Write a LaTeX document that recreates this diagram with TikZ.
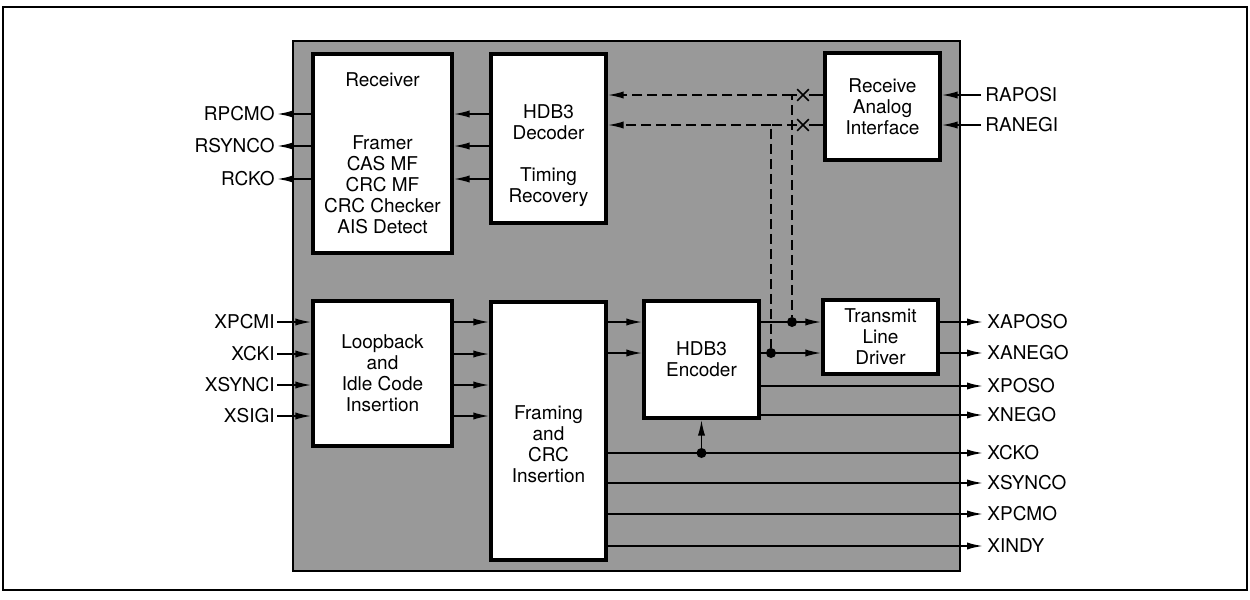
\documentclass[tikz,border=0pt]{standalone}
\usepackage{fontspec}
\setmainfont{TeX Gyre Heros}
\usetikzlibrary{arrows.meta,shapes.misc,calc}

\begin{document}
\begin{tikzpicture}[x=0.5pt,y=-0.5pt,>={Latex[length=8pt,width=3.6pt]},
		font=\fontsize{9.5}{10.5}\selectfont,
		blk/.style={draw,line width=1.6pt,fill=white,align=center,inner sep=0pt},
		sig/.style={line width=0.9pt},
		dashline/.style={sig,dash pattern=on 5pt off 2.5pt},
		pinl/.style={anchor=east,inner sep=1pt},
		pinr/.style={anchor=west,inner sep=2pt},
		jdot/.style={circle,fill,inner sep=0pt,minimum size=5pt},
		xmark/.style={cross out,draw,line width=0.8pt,inner sep=0pt,minimum size=5pt}]
		\useasboundingbox (0,0) rectangle (1250,600);
		\draw[line width=1pt] (3,7) rectangle (1247,590);
		\draw[line width=0.9pt,fill=black!40] (293,41) rectangle (960,571);
		% blocks
		\node[blk,minimum width=69.5pt,minimum height=99.5pt] (rx) at (382.5,153.5) {Receiver\\[21pt]Framer\\CAS MF\\CRC MF\\CRC Checker\\AIS Detect};
		\node[blk,minimum width=57.5pt,minimum height=84.5pt,
			label={[align=center,yshift=-8.75pt]center:{HDB3\\Decoder\\[10.5pt]Timing\\Recovery}}] (dec) at (548.5,138.5) {};
		\node[blk,minimum width=57.5pt,minimum height=53.5pt] (rai) at (882.5,106.5) {Receive\\Analog\\Interface};
		\node[blk,minimum width=69.5pt,minimum height=72.5pt] (lb) at (382.5,373.5) {Loopback\\and\\Idle Code\\Insertion};
		\node[blk,minimum width=57.5pt,minimum height=129pt,
			label={[align=center,yshift=-6.5pt]center:{Framing\\and\\CRC\\Insertion}}] (fr) at (548.5,431) {};
		\node[blk,minimum width=57.5pt,minimum height=58.5pt] (enc) at (701.5,359.5) {HDB3\\Encoder};
		\node[blk,minimum width=57.5pt,minimum height=37pt] (tld) at (880.5,337) {Transmit\\Line\\Driver};
		% pins
		\node[pinl] (rpcmo) at (277,114) {RPCMO};
		\node[pinl] (rsynco) at (277,146) {RSYNCO};
		\node[pinl] (rcko) at (277,179) {RCKO};
		\node[pinl] (xpcmi) at (277,322) {XPCMI};
		\node[pinl] (xcki) at (277,354) {XCKI};
		\node[pinl] (xsynci) at (277,385) {XSYNCI};
		\node[pinl] (xsigi) at (277,416) {XSIGI};
		\node[pinr] (raposi) at (981,95) {RAPOSI};
		\node[pinr] (ranegi) at (981,125) {RANEGI};
		\node[pinr] (xaposo) at (983,322) {XAPOSO};
		\node[pinr] (xanego) at (983,353) {XANEGO};
		\node[pinr] (xposo) at (983,386) {XPOSO};
		\node[pinr] (xnego) at (983,415) {XNEGO};
		\node[pinr] (xcko) at (983,453) {XCKO};
		\node[pinr] (xsynco) at (983,483) {XSYNCO};
		\node[pinr] (xpcmo) at (983,514) {XPCMO};
		\node[pinr] (xindy) at (983,546) {XINDY};
		% loop taps
		\node[xmark] (xa) at (803,95) {};
		\node[xmark] (xb) at (803,125) {};
		\node[jdot] (da) at (792,322) {};
		\node[jdot] (db) at (771,353) {};
		\node[jdot] (dck) at (enc.south |- xcko) {};
		% receive path
		\path[sig,->]
			(raposi.west) edge (raposi -| rai.east)
			(ranegi.west) edge (ranegi -| rai.east)
			(rpcmo -| dec.west) edge (rpcmo -| rx.east)
			(rsynco -| dec.west) edge (rsynco -| rx.east)
			(rcko -| dec.west) edge (rcko -| rx.east)
			(rpcmo -| rx.west) edge (rpcmo.east)
			(rsynco -| rx.west) edge (rsynco.east)
			(rcko -| rx.west) edge (rcko.east);
		\draw[sig] (raposi -| rai.west) -- (xa);
		\draw[sig] (ranegi -| rai.west) -- (xb);
		\draw[dashline] (xa) -| (da);
		\draw[dashline] (xb) -| (db);
		\draw[dashline,->] (da |- xa) -- (xa -| dec.east);
		\draw[dashline,->] (db |- xb) -- (xb -| dec.east);
		% transmit path
		\path[sig,->]
			(xpcmi.east) edge (xpcmi -| lb.west)
			(xcki.east) edge (xcki -| lb.west)
			(xsynci.east) edge (xsynci -| lb.west)
			(xsigi.east) edge (xsigi -| lb.west)
			(xpcmi -| lb.east) edge (xpcmi -| fr.west)
			(xcki -| lb.east) edge (xcki -| fr.west)
			(xsynci -| lb.east) edge (xsynci -| fr.west)
			(xsigi -| lb.east) edge (xsigi -| fr.west)
			(xaposo -| fr.east) edge (xaposo -| enc.west)
			(xanego -| fr.east) edge (xanego -| enc.west)
			(xaposo -| enc.east) edge (xaposo -| tld.west)
			(xanego -| enc.east) edge (xanego -| tld.west)
			(xaposo -| tld.east) edge (xaposo.west)
			(xanego -| tld.east) edge (xanego.west)
			(xposo -| enc.east) edge (xposo.west)
			(xnego -| enc.east) edge (xnego.west)
			(xcko -| fr.east) edge (xcko.west)
			(xsynco -| fr.east) edge (xsynco.west)
			(xpcmo -| fr.east) edge (xpcmo.west)
			(xindy -| fr.east) edge (xindy.west)
			(dck) edge (enc.south);
	\end{tikzpicture}
\end{document}
